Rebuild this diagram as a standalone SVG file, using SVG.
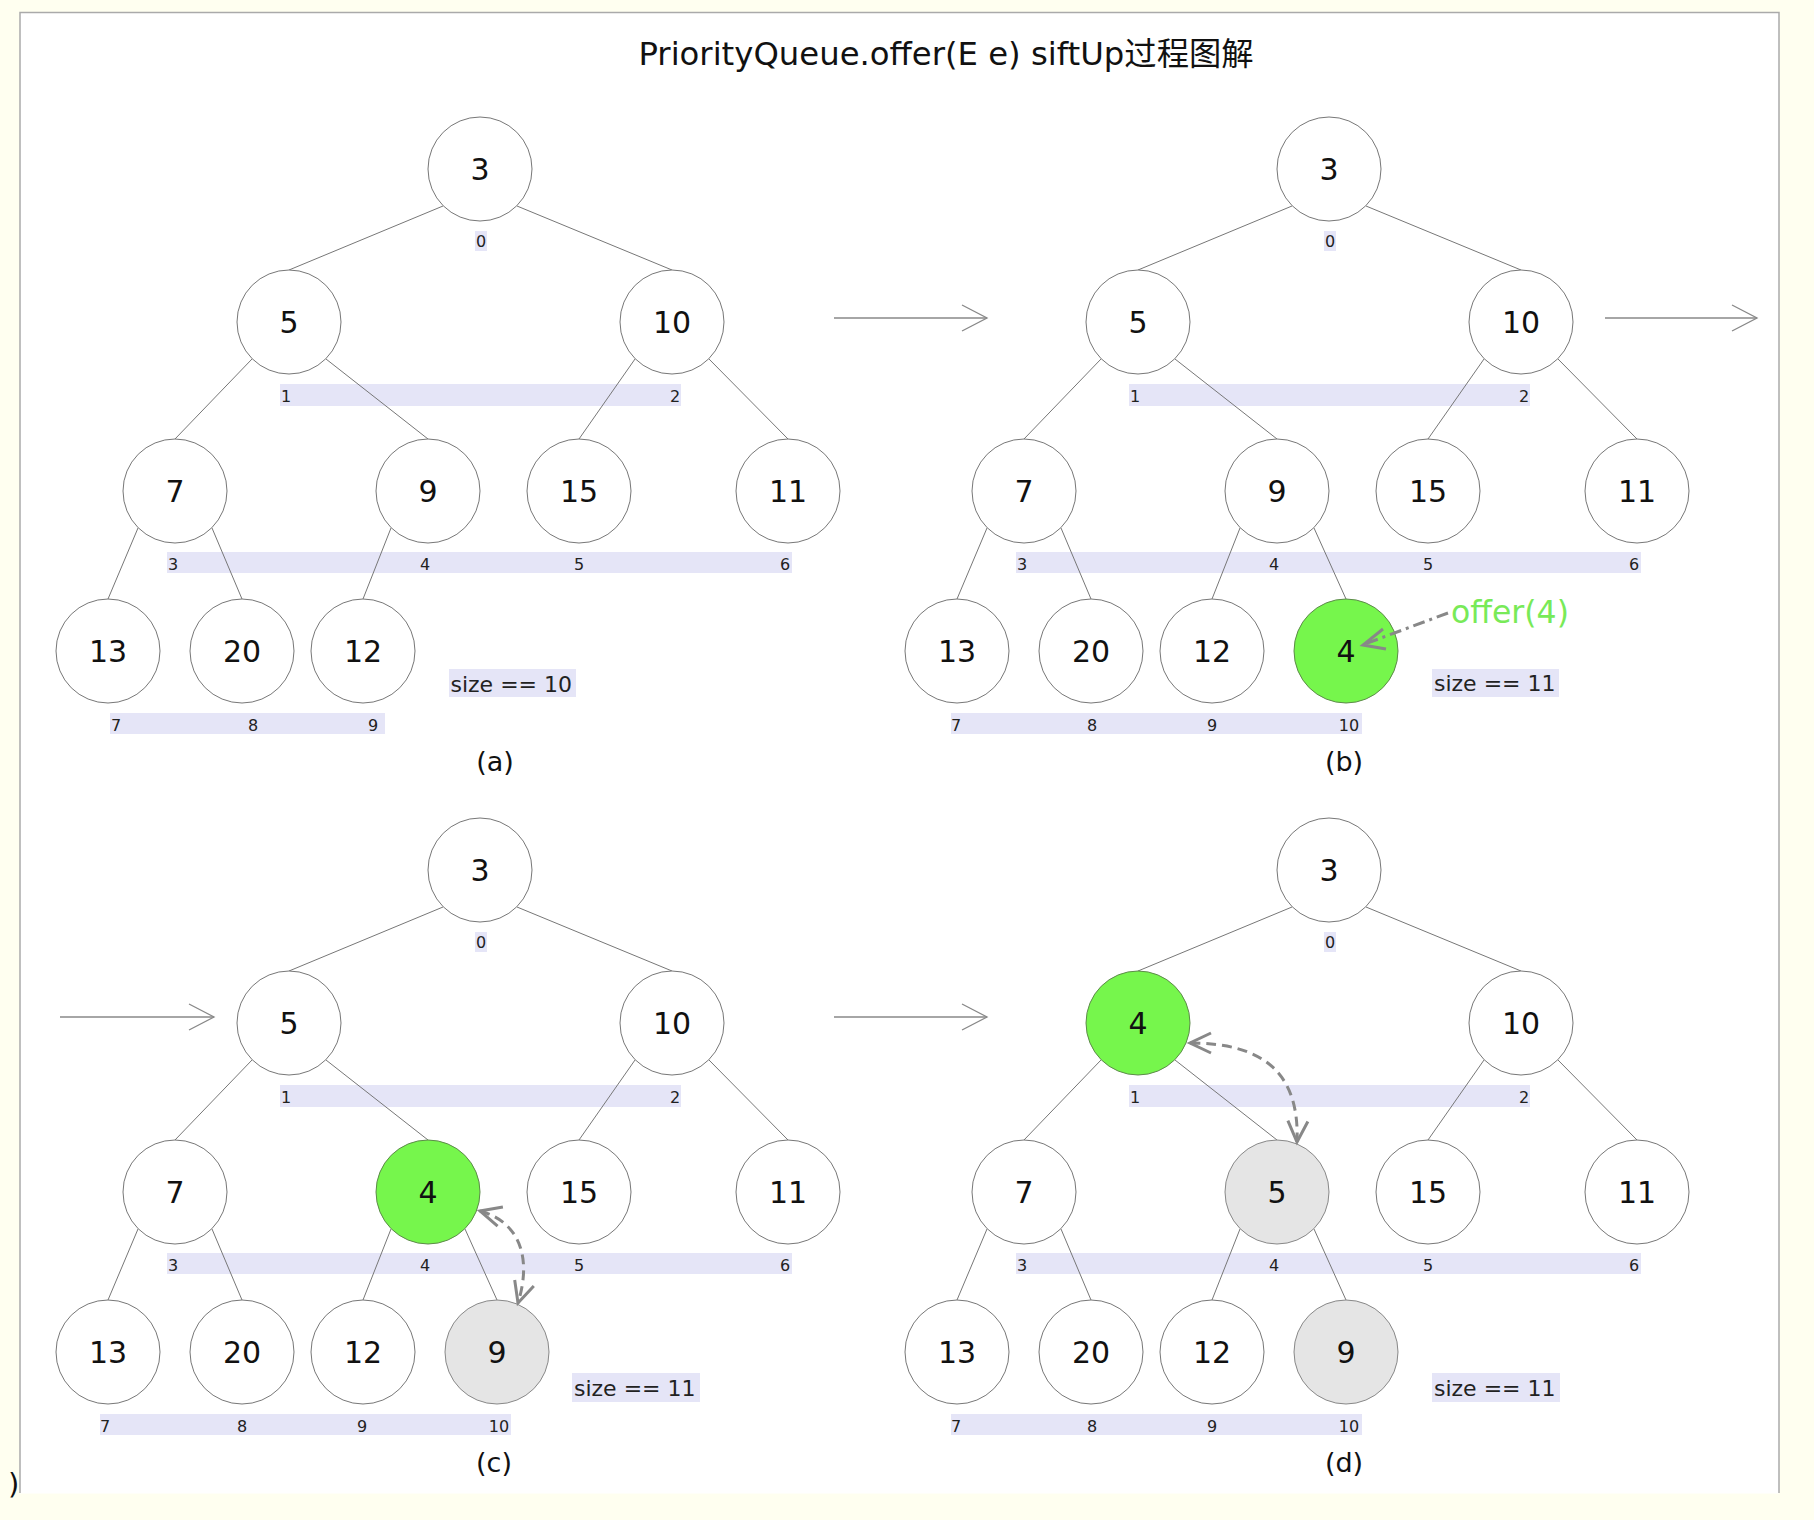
<svg xmlns="http://www.w3.org/2000/svg" width="1814" height="1520" viewBox="0 0 1814 1520">
<defs>
<style>
.node circle{fill:#fff;stroke:#777;stroke-width:1}
.node text{font-family:"DejaVu Sans","Liberation Sans",sans-serif;font-size:30px;text-anchor:middle;fill:#111}
.node.green circle{fill:#76f64c;stroke:#5d8a4a}
.node.gray circle{fill:#e5e5e5;stroke:#888}
.edge{stroke:#777;stroke-width:1;fill:none}
.band{fill:#e5e5f7}
.idx{font-family:"DejaVu Sans","Liberation Sans",sans-serif;font-size:16px;text-anchor:middle;fill:#222}
.size{font-family:"DejaVu Sans","Liberation Sans",sans-serif;font-size:22px;fill:#222}
.cap{font-family:"DejaVu Sans","Liberation Sans",sans-serif;font-size:27px;text-anchor:middle;fill:#111}
.step{stroke:#888;stroke-width:1.3;fill:none;marker-end:url(#openBig)}
.swap{stroke:#888;stroke-width:3;fill:none;stroke-dasharray:10 6;marker-start:url(#openDash);marker-end:url(#openDash)}
</style>
<marker id="openBig" markerUnits="userSpaceOnUse" viewBox="-30 -16 34 32" refX="0" refY="0" markerWidth="34" markerHeight="32" orient="auto">
<path d="M -25 -13 L 0 0 L -25 13" fill="none" stroke="#888" stroke-width="1.3"/>
</marker>
<marker id="openDash" markerUnits="userSpaceOnUse" viewBox="-30 -16 34 32" refX="0" refY="0" markerWidth="34" markerHeight="32" orient="auto-start-reverse">
<path d="M -21 -10 L 0 0 L -21 10" fill="none" stroke="#888" stroke-width="3"/>
</marker>
</defs>
<rect x="0" y="0" width="1814" height="1520" fill="#fffff0"/>
<rect x="20" y="12.5" width="1759" height="1481" fill="#fff"/>
<path d="M 20 1493 L 20 12.5 L 1779 12.5 L 1779 1493" fill="none" stroke="#aaa" stroke-width="1.5"/>
<text x="946" y="65" font-family="DejaVu Sans, 'Noto Sans CJK SC', sans-serif" font-size="32.3" text-anchor="middle" fill="#111">PriorityQueue.offer(E e) siftUp过程图解</text>
<text x="8" y="1494" font-family="DejaVu Sans, sans-serif" font-size="29" fill="#111">)</text>

<!-- Panel backgrounds: index bands, labels, captions -->
<g id="panel-a">
<rect class="band" x="475" y="231" width="12" height="20"/>
<text class="idx" x="481" y="247">0</text>
<rect class="band" x="280" y="384" width="401" height="22"/>
<text class="idx" x="286" y="402">1</text><text class="idx" x="675" y="402">2</text>
<rect class="band" x="167" y="552" width="625" height="21"/>
<text class="idx" x="173" y="570">3</text><text class="idx" x="425" y="570">4</text><text class="idx" x="579" y="570">5</text><text class="idx" x="785" y="570">6</text>
<rect class="band" x="110" y="713" width="275" height="21"/>
<text class="idx" x="116" y="731">7</text><text class="idx" x="253" y="731">8</text><text class="idx" x="373" y="731">9</text>
<rect class="band" x="449" y="669" width="127" height="28"/>
<text class="size" x="450.5" y="692">size == 10</text>
<text class="cap" x="495" y="771">(a)</text>
</g>
<g id="panel-b" transform="translate(849,0)">
<rect class="band" x="475" y="231" width="12" height="20"/>
<text class="idx" x="481" y="247">0</text>
<rect class="band" x="280" y="384" width="401" height="22"/>
<text class="idx" x="286" y="402">1</text><text class="idx" x="675" y="402">2</text>
<rect class="band" x="167" y="552" width="625" height="21"/>
<text class="idx" x="173" y="570">3</text><text class="idx" x="425" y="570">4</text><text class="idx" x="579" y="570">5</text><text class="idx" x="785" y="570">6</text>
<rect class="band" x="102" y="713" width="411" height="21"/>
<text class="idx" x="107" y="731">7</text><text class="idx" x="243" y="731">8</text><text class="idx" x="363" y="731">9</text><text class="idx" x="500" y="731">10</text>
<rect class="band" x="583" y="669" width="127" height="28"/>
<text class="size" x="585" y="691">size == 11</text>
<text class="cap" x="495" y="771">(b)</text>
<text x="602" y="623" font-family="DejaVu Sans, sans-serif" font-size="31.5" fill="#78ea58">offer(4)</text>
</g>
<g id="panel-c" transform="translate(0,701)">
<rect class="band" x="475" y="231" width="12" height="20"/>
<text class="idx" x="481" y="247">0</text>
<rect class="band" x="280" y="384" width="401" height="22"/>
<text class="idx" x="286" y="402">1</text><text class="idx" x="675" y="402">2</text>
<rect class="band" x="167" y="552" width="625" height="21"/>
<text class="idx" x="173" y="570">3</text><text class="idx" x="425" y="570">4</text><text class="idx" x="579" y="570">5</text><text class="idx" x="785" y="570">6</text>
<rect class="band" x="100" y="713" width="411" height="21"/>
<text class="idx" x="105" y="731">7</text><text class="idx" x="242" y="731">8</text><text class="idx" x="362" y="731">9</text><text class="idx" x="499" y="731">10</text>
<rect class="band" x="572" y="672" width="128" height="29"/>
<text class="size" x="574" y="695">size == 11</text>
<text class="cap" x="494" y="771">(c)</text>
</g>
<g id="panel-d" transform="translate(849,701)">
<rect class="band" x="475" y="231" width="12" height="20"/>
<text class="idx" x="481" y="247">0</text>
<rect class="band" x="280" y="384" width="401" height="22"/>
<text class="idx" x="286" y="402">1</text><text class="idx" x="675" y="402">2</text>
<rect class="band" x="167" y="552" width="625" height="21"/>
<text class="idx" x="173" y="570">3</text><text class="idx" x="425" y="570">4</text><text class="idx" x="579" y="570">5</text><text class="idx" x="785" y="570">6</text>
<rect class="band" x="102" y="713" width="411" height="21"/>
<text class="idx" x="107" y="731">7</text><text class="idx" x="243" y="731">8</text><text class="idx" x="363" y="731">9</text><text class="idx" x="500" y="731">10</text>
<rect class="band" x="583" y="672" width="128" height="29"/>
<text class="size" x="585" y="695">size == 11</text>
<text class="cap" x="495" y="771">(d)</text>
</g>

<g id="connectors">
<g id="edges-a" class="edge">
<line x1="443" y1="206" x2="289" y2="270"/><line x1="517" y1="206" x2="672" y2="270"/>
<line x1="252" y1="359" x2="175" y2="439"/><line x1="326" y1="359" x2="428" y2="439"/>
<line x1="635" y1="359" x2="579" y2="439"/><line x1="709" y1="359" x2="788" y2="439"/>
<line x1="138" y1="528" x2="108" y2="599"/><line x1="212" y1="528" x2="242" y2="599"/>
<line x1="391" y1="528" x2="363" y2="599"/>
</g>
<g id="edges-b" class="edge" transform="translate(849,0)">
<line x1="443" y1="206" x2="289" y2="270"/><line x1="517" y1="206" x2="672" y2="270"/>
<line x1="252" y1="359" x2="175" y2="439"/><line x1="326" y1="359" x2="428" y2="439"/>
<line x1="635" y1="359" x2="579" y2="439"/><line x1="709" y1="359" x2="788" y2="439"/>
<line x1="138" y1="528" x2="108" y2="599"/><line x1="212" y1="528" x2="242" y2="599"/>
<line x1="391" y1="528" x2="363" y2="599"/><line x1="465" y1="528" x2="497" y2="599"/>
</g>
<g id="edges-c" class="edge" transform="translate(0,701)">
<line x1="443" y1="206" x2="289" y2="270"/><line x1="517" y1="206" x2="672" y2="270"/>
<line x1="252" y1="359" x2="175" y2="439"/><line x1="326" y1="359" x2="428" y2="439"/>
<line x1="635" y1="359" x2="579" y2="439"/><line x1="709" y1="359" x2="788" y2="439"/>
<line x1="138" y1="528" x2="108" y2="599"/><line x1="212" y1="528" x2="242" y2="599"/>
<line x1="391" y1="528" x2="363" y2="599"/><line x1="465" y1="528" x2="497" y2="599"/>
</g>
<g id="edges-d" class="edge" transform="translate(849,701)">
<line x1="443" y1="206" x2="289" y2="270"/><line x1="517" y1="206" x2="672" y2="270"/>
<line x1="252" y1="359" x2="175" y2="439"/><line x1="326" y1="359" x2="428" y2="439"/>
<line x1="635" y1="359" x2="579" y2="439"/><line x1="709" y1="359" x2="788" y2="439"/>
<line x1="138" y1="528" x2="108" y2="599"/><line x1="212" y1="528" x2="242" y2="599"/>
<line x1="391" y1="528" x2="363" y2="599"/><line x1="465" y1="528" x2="497" y2="599"/>
</g>
<g id="steps">
<line class="step" x1="834" y1="318" x2="987" y2="318"/>
<line class="step" x1="1605" y1="318" x2="1757" y2="318"/>
<line class="step" x1="60" y1="1017" x2="214" y2="1017"/>
<line class="step" x1="834" y1="1017" x2="987" y2="1017"/>
</g>
</g>

<g id="nodes-a">
<g id="a-n0" class="node"><circle cx="480" cy="169" r="52"/><text x="480" y="180">3</text></g>
<g id="a-n1" class="node"><circle cx="289" cy="322" r="52"/><text x="289" y="333">5</text></g>
<g id="a-n2" class="node"><circle cx="672" cy="322" r="52"/><text x="672" y="333">10</text></g>
<g id="a-n3" class="node"><circle cx="175" cy="491" r="52"/><text x="175" y="502">7</text></g>
<g id="a-n4" class="node"><circle cx="428" cy="491" r="52"/><text x="428" y="502">9</text></g>
<g id="a-n5" class="node"><circle cx="579" cy="491" r="52"/><text x="579" y="502">15</text></g>
<g id="a-n6" class="node"><circle cx="788" cy="491" r="52"/><text x="788" y="502">11</text></g>
<g id="a-n7" class="node"><circle cx="108" cy="651" r="52"/><text x="108" y="662">13</text></g>
<g id="a-n8" class="node"><circle cx="242" cy="651" r="52"/><text x="242" y="662">20</text></g>
<g id="a-n9" class="node"><circle cx="363" cy="651" r="52"/><text x="363" y="662">12</text></g>
</g>
<g id="nodes-b" transform="translate(849,0)">
<g id="b-n0" class="node"><circle cx="480" cy="169" r="52"/><text x="480" y="180">3</text></g>
<g id="b-n1" class="node"><circle cx="289" cy="322" r="52"/><text x="289" y="333">5</text></g>
<g id="b-n2" class="node"><circle cx="672" cy="322" r="52"/><text x="672" y="333">10</text></g>
<g id="b-n3" class="node"><circle cx="175" cy="491" r="52"/><text x="175" y="502">7</text></g>
<g id="b-n4" class="node"><circle cx="428" cy="491" r="52"/><text x="428" y="502">9</text></g>
<g id="b-n5" class="node"><circle cx="579" cy="491" r="52"/><text x="579" y="502">15</text></g>
<g id="b-n6" class="node"><circle cx="788" cy="491" r="52"/><text x="788" y="502">11</text></g>
<g id="b-n7" class="node"><circle cx="108" cy="651" r="52"/><text x="108" y="662">13</text></g>
<g id="b-n8" class="node"><circle cx="242" cy="651" r="52"/><text x="242" y="662">20</text></g>
<g id="b-n9" class="node"><circle cx="363" cy="651" r="52"/><text x="363" y="662">12</text></g>
<g id="b-n10" class="node green"><circle cx="497" cy="651" r="52"/><text x="497" y="662">4</text></g>
</g>
<g id="nodes-c" transform="translate(0,701)">
<g id="c-n0" class="node"><circle cx="480" cy="169" r="52"/><text x="480" y="180">3</text></g>
<g id="c-n1" class="node"><circle cx="289" cy="322" r="52"/><text x="289" y="333">5</text></g>
<g id="c-n2" class="node"><circle cx="672" cy="322" r="52"/><text x="672" y="333">10</text></g>
<g id="c-n3" class="node"><circle cx="175" cy="491" r="52"/><text x="175" y="502">7</text></g>
<g id="c-n4" class="node green"><circle cx="428" cy="491" r="52"/><text x="428" y="502">4</text></g>
<g id="c-n5" class="node"><circle cx="579" cy="491" r="52"/><text x="579" y="502">15</text></g>
<g id="c-n6" class="node"><circle cx="788" cy="491" r="52"/><text x="788" y="502">11</text></g>
<g id="c-n7" class="node"><circle cx="108" cy="651" r="52"/><text x="108" y="662">13</text></g>
<g id="c-n8" class="node"><circle cx="242" cy="651" r="52"/><text x="242" y="662">20</text></g>
<g id="c-n9" class="node"><circle cx="363" cy="651" r="52"/><text x="363" y="662">12</text></g>
<g id="c-n10" class="node gray"><circle cx="497" cy="651" r="52"/><text x="497" y="662">9</text></g>
</g>
<g id="nodes-d" transform="translate(849,701)">
<g id="d-n0" class="node"><circle cx="480" cy="169" r="52"/><text x="480" y="180">3</text></g>
<g id="d-n1" class="node green"><circle cx="289" cy="322" r="52"/><text x="289" y="333">4</text></g>
<g id="d-n2" class="node"><circle cx="672" cy="322" r="52"/><text x="672" y="333">10</text></g>
<g id="d-n3" class="node"><circle cx="175" cy="491" r="52"/><text x="175" y="502">7</text></g>
<g id="d-n4" class="node gray"><circle cx="428" cy="491" r="52"/><text x="428" y="502">5</text></g>
<g id="d-n5" class="node"><circle cx="579" cy="491" r="52"/><text x="579" y="502">15</text></g>
<g id="d-n6" class="node"><circle cx="788" cy="491" r="52"/><text x="788" y="502">11</text></g>
<g id="d-n7" class="node"><circle cx="108" cy="651" r="52"/><text x="108" y="662">13</text></g>
<g id="d-n8" class="node"><circle cx="242" cy="651" r="52"/><text x="242" y="662">20</text></g>
<g id="d-n9" class="node"><circle cx="363" cy="651" r="52"/><text x="363" y="662">12</text></g>
<g id="d-n10" class="node gray"><circle cx="497" cy="651" r="52"/><text x="497" y="662">9</text></g>
</g>

<g id="overlay-connectors">
<g id="offer-arrow">
<line x1="1448" y1="613" x2="1365" y2="644" stroke="#888" stroke-width="3" stroke-dasharray="12 5 3 5"/>
<path d="M 1383 629 L 1363 645 L 1386 649" fill="none" stroke="#888" stroke-width="3"/>
</g>
<path id="swap-c" class="swap" d="M 480 1211 C 520 1222, 532 1258, 518 1303"/>
<path id="swap-d" class="swap" d="M 1190 1043 C 1260 1043, 1300 1070, 1297 1142"/>
</g>
</svg>
